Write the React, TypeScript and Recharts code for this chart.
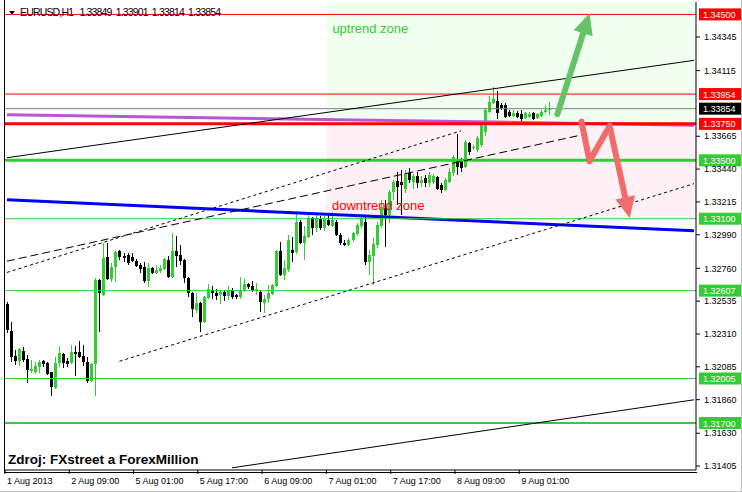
import React from 'react';
import { ComposedChart, Bar, XAxis, YAxis, ReferenceLine, ReferenceArea } from 'recharts';

const FONT = '"Liberation Sans", Arial, sans-serif';
const GREEN = '#32CD32';

// EURUSD H1 candles, 1 Aug 2013 18:00 .. 9 Aug 2013 09:00
const opens = [
  1.32516, 1.3233, 1.32159, 1.32125, 1.32193, 1.32139, 1.32056, 1.32049, 1.32084, 1.32125,
  1.32111, 1.32049, 1.3194, 1.32111, 1.32173, 1.32125, 1.32111, 1.32186, 1.32186, 1.32159,
  1.32118, 1.31988, 1.32104, 1.3268, 1.32577, 1.32838, 1.32687, 1.32769, 1.32879, 1.32845,
  1.32852, 1.32838, 1.3281, 1.32783, 1.32769, 1.32673, 1.32762, 1.32728, 1.32742, 1.32755,
  1.32817, 1.32701, 1.32879, 1.32852, 1.32817, 1.32694, 1.32591, 1.32474, 1.32522, 1.32392,
  1.32556, 1.32611, 1.32591, 1.32577, 1.32598, 1.3257, 1.32611, 1.32577, 1.32563, 1.32611,
  1.32653, 1.32639, 1.32604, 1.32598, 1.32522, 1.32549, 1.32584, 1.32639, 1.32879, 1.32715,
  1.32748, 1.32886, 1.32872, 1.33077, 1.32933, 1.32975, 1.33105, 1.33037, 1.33098, 1.33037,
  1.33091, 1.3305, 1.33077, 1.32988, 1.32933, 1.3292, 1.32954, 1.32995, 1.3305, 1.33077,
  1.32803, 1.32845, 1.3292, 1.3305, 1.33173, 1.33125, 1.33283, 1.33358, 1.33351, 1.33304,
  1.33413, 1.33351, 1.33393, 1.33344, 1.33379, 1.33344, 1.33351, 1.33386, 1.33331, 1.33297,
  1.33351, 1.33413, 1.33502, 1.33502, 1.33454, 1.33618, 1.33585, 1.33571, 1.33605, 1.33694,
  1.33831, 1.33893, 1.33906, 1.33879, 1.33879, 1.33831, 1.33804, 1.33824, 1.33817, 1.3379,
  1.33797, 1.33824, 1.3379, 1.33804, 1.33831, 1.33849,
];
const highs = [
  1.32529, 1.32392, 1.322, 1.32214, 1.32221, 1.32166, 1.32132, 1.32118, 1.32132, 1.32132,
  1.32118, 1.32049, 1.32152, 1.32227, 1.3218, 1.32145, 1.32234, 1.32227, 1.32262, 1.32234,
  1.32152, 1.32111, 1.32694, 1.3269, 1.32933, 1.32933, 1.32797, 1.3288, 1.32886, 1.32865,
  1.32865, 1.32865, 1.32824, 1.32797, 1.32803, 1.32797, 1.32769, 1.32783, 1.32783, 1.32831,
  1.32845, 1.33002, 1.32982, 1.3292, 1.32824, 1.32701, 1.32598, 1.32591, 1.32529, 1.3257,
  1.32653, 1.32639, 1.32618, 1.32611, 1.32611, 1.32639, 1.32625, 1.32584, 1.32701, 1.32687,
  1.32659, 1.32673, 1.32659, 1.32611, 1.32577, 1.32646, 1.32653, 1.32886, 1.3294, 1.32817,
  1.32988, 1.32975, 1.33153, 1.33091, 1.3305, 1.33125, 1.33112, 1.33125, 1.33118, 1.33118,
  1.33125, 1.33146, 1.33091, 1.33002, 1.32954, 1.32968, 1.3301, 1.3307, 1.33125, 1.33118,
  1.32886, 1.32968, 1.33077, 1.33228, 1.33228, 1.33297, 1.33365, 1.3342, 1.33434, 1.33434,
  1.33447, 1.33406, 1.3342, 1.33393, 1.33399, 1.3342, 1.33406, 1.33393, 1.33344, 1.33379,
  1.33447, 1.33537, 1.33681, 1.33516, 1.33639, 1.33625, 1.33605, 1.33667, 1.33762, 1.33858,
  1.33941, 1.34003, 1.33975, 1.33893, 1.33893, 1.33845, 1.33845, 1.33838, 1.33845, 1.33831,
  1.33831, 1.33831, 1.33824, 1.33845, 1.33879, 1.33901,
];
const lows = [
  1.32316, 1.32118, 1.32098, 1.32091, 1.32118, 1.31974, 1.32042, 1.32035, 1.32042, 1.32084,
  1.32028, 1.31885, 1.31933, 1.32084, 1.32077, 1.32084, 1.32104, 1.32022, 1.32145, 1.32091,
  1.31974, 1.31981, 1.31885, 1.32323, 1.3257, 1.3268, 1.32666, 1.32666, 1.32817, 1.32803,
  1.32783, 1.32803, 1.32769, 1.32728, 1.32659, 1.32632, 1.32721, 1.32721, 1.32728, 1.32748,
  1.32694, 1.32694, 1.32769, 1.32783, 1.32659, 1.32563, 1.32427, 1.32454, 1.32323, 1.32385,
  1.32549, 1.32549, 1.32543, 1.32516, 1.32536, 1.32543, 1.32549, 1.32549, 1.32549, 1.32598,
  1.32618, 1.32598, 1.32577, 1.32461, 1.32454, 1.32522, 1.32577, 1.32632, 1.32708, 1.3268,
  1.32735, 1.32803, 1.32859, 1.32927, 1.32817, 1.32968, 1.32988, 1.3301, 1.33023, 1.33016,
  1.3305, 1.33043, 1.32982, 1.3292, 1.32913, 1.32913, 1.3294, 1.32982, 1.33037, 1.32783,
  1.32715, 1.32646, 1.32899, 1.33037, 1.32906, 1.3307, 1.33228, 1.33194, 1.33125, 1.33277,
  1.33344, 1.33304, 1.33311, 1.33318, 1.33318, 1.33318, 1.33337, 1.33297, 1.33277, 1.3329,
  1.33344, 1.33393, 1.33399, 1.3342, 1.33447, 1.33537, 1.33571, 1.33557, 1.33591, 1.33667,
  1.33824, 1.33886, 1.33783, 1.33845, 1.3379, 1.33797, 1.33797, 1.3379, 1.33762, 1.33783,
  1.3379, 1.33776, 1.33783, 1.33797, 1.33824, 1.33814,
];
const closes = [
  1.32337, 1.32152, 1.32125, 1.32207, 1.32132, 1.32063, 1.3207, 1.32091, 1.32118, 1.32104,
  1.32035, 1.31947, 1.32111, 1.3218, 1.32111, 1.32104, 1.32186, 1.32173, 1.32152, 1.32118,
  1.31988, 1.32104, 1.3268, 1.32591, 1.32831, 1.32687, 1.32769, 1.32872, 1.32838, 1.32831,
  1.32797, 1.3281, 1.32776, 1.32755, 1.32673, 1.32762, 1.32728, 1.32748, 1.32762, 1.32824,
  1.32701, 1.32879, 1.32845, 1.3281, 1.32694, 1.32591, 1.32481, 1.32522, 1.32392, 1.32563,
  1.32618, 1.32591, 1.3257, 1.32598, 1.3257, 1.32611, 1.32563, 1.32563, 1.32611, 1.32653,
  1.32632, 1.32611, 1.32618, 1.32529, 1.32549, 1.32591, 1.32646, 1.32879, 1.32715, 1.32762,
  1.32954, 1.32865, 1.33077, 1.32933, 1.32982, 1.33105, 1.33037, 1.33105, 1.33037, 1.33098,
  1.33057, 1.33091, 1.32988, 1.32933, 1.3292, 1.32954, 1.33002, 1.33057, 1.33105, 1.32803,
  1.32852, 1.32927, 1.33057, 1.3318, 1.33125, 1.33283, 1.33351, 1.33318, 1.33331, 1.33413,
  1.33365, 1.33393, 1.33344, 1.33365, 1.33344, 1.33399, 1.33393, 1.33304, 1.33297, 1.33365,
  1.3342, 1.33523, 1.33454, 1.33447, 1.33625, 1.33557, 1.33591, 1.33653, 1.33755, 1.33845,
  1.33899, 1.3392, 1.33824, 1.33858, 1.33797, 1.33804, 1.33824, 1.33797, 1.33783, 1.33824,
  1.33817, 1.33783, 1.33817, 1.33831, 1.33845, 1.33854,
];

// bar slots on the time axis (chart shift leaves empty room on the right)
const slotCount = 172;
const timeTicks = [0, 16, 32, 48, 64, 80, 96, 112, 128];
const timeLabels = [
  '1 Aug 2013', '2 Aug 09:00', '5 Aug 01:00', '5 Aug 17:00', '6 Aug 09:00',
  '7 Aug 01:00', '7 Aug 17:00', '8 Aug 09:00', '9 Aug 01:00',
];

const priceMin = 1.31378;
const priceMax = 1.34585;
// 1.33890 sits under the price tags in the original, so it is left out
const priceTicks = [
  1.34345, 1.34115, 1.33665, 1.3344, 1.33215, 1.3299,
  1.3276, 1.32535, 1.3231, 1.32085, 1.3186, 1.3163, 1.31405,
];

// horizontal levels and what kind of line each one is
const levelValues = [1.345, 1.33954, 1.33854, 1.3375, 1.335, 1.331, 1.32607, 1.32005, 1.317];
const levelKinds = ['res', 'res', 'bid', 'resMain', 'supMain', 'sup', 'sup', 'sup', 'supMid'];

// trend lines: [bar index, price] pairs
const upperChannel = [[0, 1.33518], [171, 1.34185]];
const midChannel = [[0, 1.32809], [144, 1.3368]];
const innerChannel = [[0, 1.32732], [113, 1.33702]];
const lowerChannel = [[28, 1.32123], [171, 1.3334]];
const bottomLine = [[56, 1.31393], [171, 1.31859]];
const blueAverage = [[0, 1.3323], [171, 1.33017]];
const purpleAverage = [[0, 1.33813], [171, 1.33741]];

// scenario arrows
const upArrow = [[137, 1.33817], [145, 1.34508]];
const downArrow = [[143, 1.33765], [145, 1.33495], [150, 1.33735], [155, 1.33105]];

const zoneStart = 80;
const zoneEnd = 171;
const uptrendZone = [1.3375, priceMax];
const downtrendZone = [1.331, 1.3375];

const title = 'EURUSD,H1   1.33849  1.33901  1.33814  1.33854';
const source = 'Zdroj: FXstreet a ForexMillion';

const kindStyle: Record<string, { stroke: string; width: number; tag: string }> = {
  res: { stroke: '#FF0000', width: 1, tag: '#FF0000' },
  resMain: { stroke: '#FF0000', width: 3, tag: '#FF0000' },
  bid: { stroke: '#808080', width: 1, tag: '#000000' },
  sup: { stroke: GREEN, width: 1, tag: GREEN },
  supMid: { stroke: GREEN, width: 2, tag: GREEN },
  supMain: { stroke: GREEN, width: 3, tag: GREEN },
};

const data = Array.from({ length: slotCount }, (_, i) =>
  i < opens.length
    ? { i, open: opens[i], high: highs[i], low: lows[i], close: closes[i], range: [lows[i], highs[i]] }
    : { i }
);

const seg = (pts: number[][]) => pts.map(([x, y]) => ({ x, y }));

const renderCandle = (props: any) => {
  const { x, y, width, height, payload } = props;
  if (!payload || payload.open == null) return <g />;
  const top = Math.min(y, y + height);
  const span = Math.abs(height);
  const { open, high, low, close } = payload;
  const toY = (p: number) => top + ((high - p) / (high - low || 1)) * span;
  const color = close >= open ? GREEN : '#000';
  const cx = x + width / 2;
  const bTop = toY(Math.max(open, close));
  const bBot = toY(Math.min(open, close));
  return (
    <g shapeRendering="crispEdges">
      <line x1={cx} x2={cx} y1={top} y2={top + span} stroke={color} strokeWidth={1} />
      <rect x={x} y={bTop} width={width} height={Math.max(bBot - bTop, 1)} fill={color} />
    </g>
  );
};

const TimeTick = (props: any) => {
  const { x, y, payload } = props;
  const idx = timeTicks.indexOf(payload.value);
  const tx = x - 2;
  return (
    <g>
      <line x1={tx} x2={tx} y1={y - 8} y2={y - 4} stroke="#000" />
      <text x={tx + 2} y={y + 6} fontSize={9} fill="#000" fontFamily={FONT}>{timeLabels[idx]}</text>
    </g>
  );
};

const priceTag = (value: number, bg: string) => (props: any) => {
  const vb = props.viewBox;
  const bx = vb.x + vb.width + 3;
  return (
    <g>
      <rect x={bx} y={vb.y - 6} width={43} height={12} fill={bg} />
      <text x={bx + 4} y={vb.y + 3.5} fontSize={9} fill="#fff" fontFamily={FONT}>{value.toFixed(5)}</text>
    </g>
  );
};

const zoneCaption = (text: string, color: string, dy: number) => (props: any) => {
  const vb = props.viewBox;
  return (
    <text x={vb.x + 4} y={vb.y + dy} fontSize={13} fill={color} fontFamily={FONT}>
      {text}
    </text>
  );
};

const arrowShape = (color: string) => (p: any) => {
  const { x1, y1, x2, y2 } = p;
  const ang = Math.atan2(y2 - y1, x2 - x1);
  const len = 21;
  const half = 10;
  const bx = x2 - len * Math.cos(ang);
  const by = y2 - len * Math.sin(ang);
  const nx = -Math.sin(ang) * half;
  const ny = Math.cos(ang) * half;
  return (
    <g>
      <line x1={x1} y1={y1} x2={bx} y2={by} stroke={color} strokeWidth={6} strokeLinecap="round" />
      <polygon points={`${x2},${y2} ${bx + nx},${by + ny} ${bx - nx},${by - ny}`} fill={color} />
    </g>
  );
};

export default function App() {
  return (
    <div style={{ position: 'absolute', left: 0, top: 0, width: 742, height: 492, background: '#fff', fontFamily: FONT }}>
      <ComposedChart width={742} height={492} data={data} margin={{ top: 2, right: 0, bottom: 0, left: 5 }}>
        <ReferenceArea
          x1={zoneStart} x2={zoneEnd} y1={uptrendZone[0]} y2={uptrendZone[1]}
          fill="#F0FFF0" fillOpacity={1} stroke="none"
        />
        <ReferenceArea
          x1={zoneStart} x2={zoneEnd} y1={downtrendZone[0]} y2={downtrendZone[1]}
          fill="#FFF0F5" fillOpacity={1} stroke="none"
        />
        <XAxis
          dataKey="i" type="category" ticks={timeTicks} interval={0} height={22}
          axisLine={{ stroke: '#000' }} tickLine={{ stroke: 'none' }} tickSize={6} tickMargin={2}
          tick={TimeTick}
        />
        <YAxis
          orientation="right" type="number" domain={[priceMin, priceMax]} allowDataOverflow
          ticks={priceTicks} interval={0} width={46}
          axisLine={{ stroke: '#000' }} tickLine={{ stroke: '#000' }} tickSize={4} tickMargin={4}
          tick={{ fontSize: 9, fill: '#000', fontFamily: FONT }}
          tickFormatter={(v: number) => v.toFixed(5)}
        />
        <Bar dataKey="range" barSize={3} isAnimationActive={false} shape={renderCandle} />

        <ReferenceLine segment={seg(purpleAverage)} stroke="#BA55D3" strokeWidth={3} />
        <ReferenceLine segment={seg(blueAverage)} stroke="#0000FF" strokeWidth={3} />
        {levelValues.map((v, n) => {
          const s = kindStyle[levelKinds[n]];
          return (
            <ReferenceLine key={v} y={v} stroke={s.stroke} strokeWidth={s.width} label={priceTag(v, s.tag)} />
          );
        })}
        <ReferenceLine segment={seg(upperChannel)} stroke="#000" strokeWidth={1} />
        <ReferenceLine segment={seg(midChannel)} stroke="#000" strokeWidth={1} strokeDasharray="8 4" />
        <ReferenceLine segment={seg(innerChannel)} stroke="#000" strokeWidth={1} strokeDasharray="3 3" />
        <ReferenceLine segment={seg(lowerChannel)} stroke="#000" strokeWidth={1} strokeDasharray="3 3" />
        <ReferenceLine segment={seg(bottomLine)} stroke="#000" strokeWidth={1} />

        <ReferenceLine
          segment={[{ x: zoneStart, y: uptrendZone[1] }, { x: zoneEnd, y: uptrendZone[1] }]}
          stroke="none" label={zoneCaption('uptrend zone', GREEN, 31)}
        />

        <ReferenceLine segment={seg(upArrow)} stroke="#66C266" shape={arrowShape('#66C266')} />
        <ReferenceLine segment={seg(downArrow.slice(0, 2))} stroke="#F26B6B" strokeWidth={6} strokeLinecap="round" />
        <ReferenceLine segment={seg(downArrow.slice(1, 3))} stroke="#F26B6B" strokeWidth={6} strokeLinecap="round" />
        <ReferenceLine segment={seg(downArrow.slice(2, 4))} stroke="#F26B6B" shape={arrowShape('#F26B6B')} />
      </ComposedChart>
      <svg width={742} height={492} style={{ position: 'absolute', left: 0, top: 0, pointerEvents: 'none' }}>
        <line x1={4.5} x2={4.5} y1={0} y2={473} stroke="#000" />
        <line x1={4} x2={697} y1={472.5} y2={472.5} stroke="#000" />
        <line x1={741.5} x2={741.5} y1={0} y2={492} stroke="#C0C0C0" />
        <line x1={0} x2={742} y1={491.5} y2={491.5} stroke="#C0C0C0" />
        <path d="M9 11 L15 11 L12 14.5 Z" fill="#000" />
        <text
          x={20} y={16} fontSize={10.5} fill="#000" fontFamily={FONT}
          textLength={201} lengthAdjust="spacing" style={{ whiteSpace: 'pre' }}
        >
          {title}
        </text>
        {/* drawn over the candles, as in the terminal */}
        <text x={332} y={210} fontSize={13} fill="#FF0000" fontFamily={FONT}>downtrend zone</text>
        <text x={8} y={464} fontSize={13.5} fontWeight="bold" fill="#000" fontFamily={FONT}>
          {source}
        </text>
      </svg>
    </div>
  );
}
